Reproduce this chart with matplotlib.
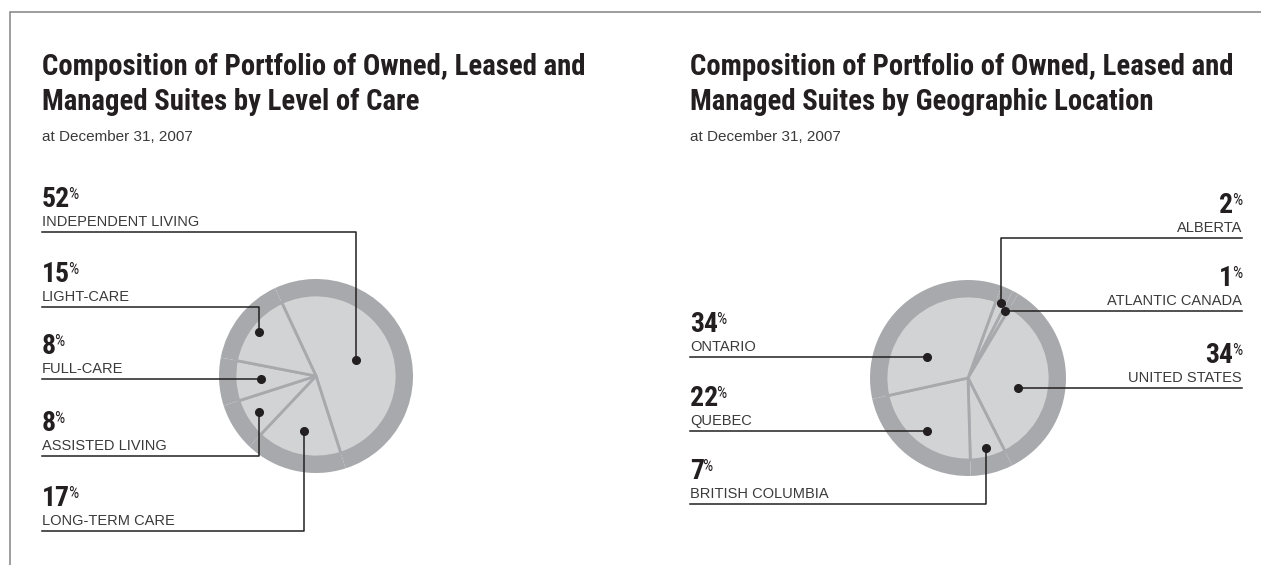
import numpy as np
import matplotlib
matplotlib.use("Agg")
import matplotlib.pyplot as plt
from matplotlib import font_manager

# Data (clockwise order, starting at the top-left cut)
care_labels = ["INDEPENDENT LIVING", "LONG-TERM CARE", "ASSISTED LIVING", "FULL-CARE", "LIGHT-CARE"]
care_values = [52, 17, 8, 8, 15]

geo_labels = ["ALBERTA", "ATLANTIC CANADA", "UNITED STATES", "BRITISH COLUMBIA", "QUEBEC", "ONTARIO"]
geo_values = [2, 1, 34, 7, 22, 34]

titles = [
    ["Composition of Portfolio of Owned, Leased and", "Managed Suites by Level of Care"],
    ["Composition of Portfolio of Owned, Leased and", "Managed Suites by Geographic Location"],
]
subtitle = "at December 31, 2007"

W, H = 1261, 565
RING = "#a7a9ac"
FILL = "#d1d3d4"
INK = "#231f20"
GREY_TXT = "#3a3a3a"

# pick a narrow bold face if one is installed
_names = {f.name for f in font_manager.fontManager.ttflist}
NARROW = next((n for n in ["Liberation Sans Narrow", "Roboto Condensed", "Open Sans Condensed"]
               if n in _names), "DejaVu Sans")
STRETCH = "normal" if NARROW != "DejaVu Sans" else "condensed"
PLAIN = "Liberation Sans" if "Liberation Sans" in _names else "DejaVu Sans"


def sy(py):
    # screen pixel row -> data y
    return H - py


fig = plt.figure(figsize=(W / 100, H / 100), dpi=100)
ax = fig.add_axes([0, 0, 1, 1])

# frame: top and left rule
ax.plot([10, 10, W], [sy(H), sy(12), sy(12)], color="#8c8c8c", lw=1.2, solid_joinstyle="miter")


def draw_pie(values, labels, center, r_out, r_in, start, dot_t, dot_r, line_y, side, text_x, title, tx):
    cx, cy = center
    n = len(values)
    ax.pie(values, radius=r_out, center=(cx, sy(cy)), startangle=start, counterclock=False,
           colors=[RING] * n, wedgeprops=dict(linewidth=0), frame=True)
    wedges, _ = ax.pie(values, radius=r_in, center=(cx, sy(cy)), startangle=start,
                       counterclock=False, colors=[FILL] * n,
                       wedgeprops=dict(edgecolor=RING, linewidth=2.0), frame=True)

    for w, lab, val, t, rf, ly, sd in zip(wedges, labels, values, dot_t, dot_r, line_y, side):
        ang = np.radians(w.theta1 + t * (w.theta2 - w.theta1))
        dx = cx + rf * r_in * np.cos(ang)
        dy = cy - rf * r_in * np.sin(ang)
        tx_end = text_x[sd]
        if ly is None:
            ly = dy
            ax.plot([dx, tx_end], [sy(dy), sy(dy)], color=INK, lw=1.1)
        else:
            ax.plot([dx, dx, tx_end], [sy(dy), sy(ly), sy(ly)], color=INK, lw=1.1)
        ax.plot(dx, sy(dy), "o", color=INK, ms=5.5, zorder=5)

        num_kw = dict(fontfamily=NARROW, fontstretch=STRETCH, fontweight="bold", fontsize=20, color=INK)
        pct_kw = dict(fontfamily=NARROW, fontstretch=STRETCH, fontsize=11.5, color=INK)
        if sd == "left":
            num = ax.text(tx_end, sy(ly - 25), str(val), ha="left", va="baseline", **num_kw)
            ax.annotate("%", xy=(1, sy(ly - 45)), xycoords=(num, "data"), xytext=(-2, 0),
                        textcoords="offset pixels", ha="left", va="top", **pct_kw)
            ax.text(tx_end, sy(ly - 6), lab, ha="left", va="baseline",
                    fontfamily=PLAIN, fontsize=10.5, color=GREY_TXT)
        else:
            pct = ax.text(tx_end, sy(ly - 45), "%", ha="right", va="top", **pct_kw)
            ax.annotate(str(val), xy=(0, sy(ly - 25)), xycoords=(pct, "data"), xytext=(1.5, 0),
                        textcoords="offset pixels", ha="right", va="baseline", **num_kw)
            ax.text(tx_end, sy(ly - 6), lab, ha="right", va="baseline",
                    fontfamily=PLAIN, fontsize=10.5, color=GREY_TXT)

    for i, line in enumerate(title):
        ax.text(tx, sy(75 + 35 * i), line, ha="left", va="baseline", fontfamily=NARROW,
                fontstretch=STRETCH, fontweight="bold", fontsize=20.7, color=INK)
    ax.text(tx, sy(141), subtitle, ha="left", va="baseline", fontfamily=PLAIN,
            fontsize=11, color=GREY_TXT)


draw_pie(care_values, care_labels, center=(316, 376), r_out=97, r_in=81, start=115,
         dot_t=[0.5, 0.5, 0.5, 0.5, 0.5],
         dot_r=[0.53, 0.69, 0.83, 0.68, 0.89],
         line_y=[232, 531, 456, None, 307],
         side=["left"] * 5, text_x={"left": 42}, title=titles[0], tx=42)

draw_pie(geo_values, geo_labels, center=(968, 378), r_out=98, r_in=82, start=70,
         dot_t=[0.5, 0.5, 0.42, 0.5, 0.5, 0.677],
         dot_r=[1.0, 0.93, 0.62, 0.88, 0.82, 0.56],
         line_y=[238, None, None, 504, None, None],
         side=["right", "right", "right", "left", "left", "left"],
         text_x={"left": 690, "right": 1242}, title=titles[1], tx=690)

ax.set_xlim(0, W)
ax.set_ylim(0, H)
ax.set_aspect("equal")
ax.axis("off")

fig.savefig("out.png", dpi=100, facecolor="white")
